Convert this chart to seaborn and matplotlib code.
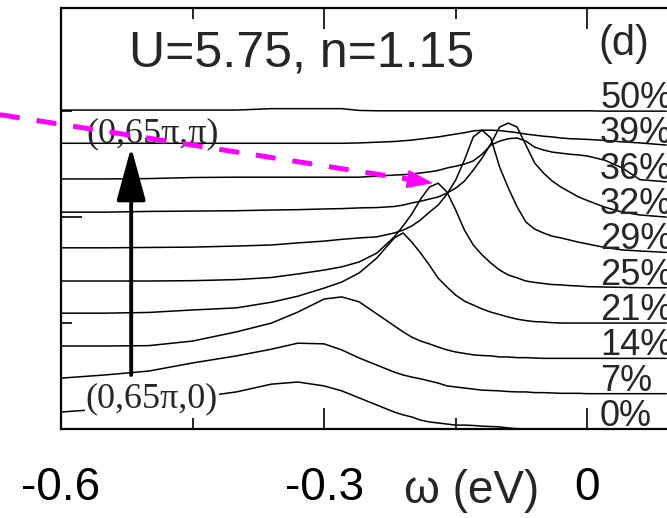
import numpy as np
import pandas as pd
import matplotlib
matplotlib.use("Agg")
import matplotlib.pyplot as plt
import seaborn as sns

# ---------------- data ----------------
omega = [-0.60, -0.55, -0.50, -0.45, -0.40, -0.36, -0.33, -0.30, -0.28, -0.26,
         -0.24, -0.22, -0.21, -0.20, -0.19, -0.18, -0.17, -0.16, -0.15, -0.14,
         -0.13, -0.12, -0.11, -0.10, -0.09, -0.08, -0.07, -0.06, -0.05, -0.04,
         -0.03, -0.02, -0.01, 0.00, 0.02, 0.04, 0.06, 0.09]

doping_labels = ["0%", "7%", "14%", "21%", "25%", "29%", "32%", "36%", "39%", "50%"]

a_00 = [0.48, 0.57, 0.71, 0.88, 1.05, 1.27, 1.33, 1.22, 1.08, 0.88,
        0.68, 0.48, 0.40, 0.34, 0.25, 0.20, 0.17, 0.14, 0.11, 0.11,
        0.10, 0.08, 0.07, 0.06, 0.03, 0.01, 0.00, 0.00, 0.00, 0.00,
        0.00, 0.00, 0.00, 0.00, 0.00, 0.00, 0.00, 0.00]
a_07 = [0.44, 0.53, 0.64, 0.87, 1.07, 1.26, 1.43, 1.41, 1.24, 1.01,
        0.81, 0.61, 0.53, 0.47, 0.42, 0.36, 0.30, 0.22, 0.19, 0.16,
        0.13, 0.10, 0.09, 0.08, 0.06, 0.05, 0.05, 0.03, 0.03, 0.02,
        0.01, 0.01, 0.01, 0.00, 0.00, 0.00, 0.00, 0.00]
a_14 = [0.35, 0.35, 0.36, 0.49, 0.75, 1.00, 1.31, 1.68, 1.74, 1.60,
        1.26, 0.92, 0.75, 0.60, 0.49, 0.41, 0.32, 0.24, 0.18, 0.14,
        0.10, 0.08, 0.07, 0.04, 0.04, 0.02, 0.02, 0.01, 0.00, 0.00,
        0.00, 0.00, 0.00, 0.00, 0.00, 0.00, 0.00, 0.00]
a_21 = [0.28, 0.28, 0.30, 0.37, 0.43, 0.59, 0.76, 0.99, 1.16, 1.42,
        1.84, 2.41, 2.55, 2.29, 1.98, 1.64, 1.27, 1.02, 0.79, 0.62,
        0.51, 0.40, 0.31, 0.24, 0.17, 0.11, 0.07, 0.04, 0.03, 0.01,
        0.00, 0.00, 0.00, 0.00, 0.00, 0.00, 0.00, 0.00]
a_25 = [0.19, 0.19, 0.19, 0.20, 0.23, 0.29, 0.39, 0.50, 0.59, 0.73,
        0.98, 1.44, 1.75, 2.09, 2.51, 2.85, 2.96, 2.71, 2.20, 1.63,
        1.21, 0.93, 0.70, 0.50, 0.36, 0.28, 0.19, 0.15, 0.12, 0.09,
        0.08, 0.06, 0.05, 0.03, 0.02, 0.01, 0.00, 0.00]
a_29 = [0.13, 0.13, 0.14, 0.15, 0.18, 0.21, 0.27, 0.32, 0.37, 0.41,
        0.44, 0.55, 0.63, 0.75, 0.92, 1.14, 1.34, 1.65, 2.05, 2.62,
        3.27, 3.46, 3.24, 2.42, 1.82, 1.29, 0.86, 0.66, 0.55, 0.46,
        0.41, 0.35, 0.29, 0.24, 0.14, 0.07, 0.04, 0.00]
a_32 = [0.14, 0.14, 0.16, 0.17, 0.18, 0.20, 0.21, 0.23, 0.24, 0.26,
        0.27, 0.30, 0.34, 0.40, 0.45, 0.51, 0.57, 0.68, 0.82, 1.02,
        1.33, 1.67, 2.07, 2.55, 2.66, 2.55, 2.04, 1.53, 1.25, 1.02,
        0.85, 0.71, 0.57, 0.47, 0.28, 0.14, 0.06, 0.00]
a_36 = [0.08, 0.08, 0.09, 0.12, 0.13, 0.13, 0.13, 0.13, 0.13, 0.13,
        0.16, 0.19, 0.20, 0.22, 0.25, 0.28, 0.32, 0.39, 0.44, 0.50,
        0.59, 0.78, 1.04, 1.15, 1.22, 1.24, 1.15, 0.98, 0.90, 0.84,
        0.81, 0.78, 0.76, 0.73, 0.61, 0.39, 0.06, 0.00]
a_39 = [0.09, 0.09, 0.09, 0.09, 0.09, 0.09, 0.09, 0.09, 0.09, 0.10,
        0.12, 0.14, 0.16, 0.18, 0.21, 0.24, 0.27, 0.31, 0.35, 0.39,
        0.44, 0.46, 0.46, 0.45, 0.42, 0.39, 0.35, 0.32, 0.29, 0.27,
        0.24, 0.22, 0.21, 0.20, 0.17, 0.13, 0.10, 0.04]
a_50 = [0.03, 0.03, 0.03, 0.03, 0.03, 0.07, 0.07, 0.07, 0.07, 0.02,
        0.01, 0.01, 0.01, 0.01, 0.01, 0.01, 0.01, 0.01, 0.01, 0.01,
        0.01, 0.01, 0.01, 0.01, 0.01, 0.01, 0.01, 0.01, 0.01, 0.01,
        0.01, 0.01, 0.01, 0.01, 0.00, 0.00, 0.00, 0.00]

spectra = [a_00, a_07, a_14, a_21, a_25, a_29, a_32, a_36, a_39, a_50]

title_text = "U=5.75, n=1.15"
panel_text = "(d)"
k_top_text = "(0,65π,π)"
k_bottom_text = "(0,65π,0)"
x_tick_values = [-0.6, -0.3, 0.0]
x_tick_labels = ["-0.6", "-0.3", "0"]
x_label = "ω (eV)"

# ---------------- style ----------------
sns.set_style("ticks")
plt.rcParams["font.family"] = ["Liberation Sans", "DejaVu Sans"]
plt.rcParams["axes.unicode_minus"] = False

step = 1.0  # vertical offset between successive spectra
rows = []
for i, (lab, vals) in enumerate(zip(doping_labels, spectra)):
    for w, v in zip(omega, vals):
        rows.append((w, v + i * step, lab))
df = pd.DataFrame(rows, columns=["omega", "intensity", "doping"])

fig = plt.figure(figsize=(6.67, 5.18), dpi=100)
ax = fig.add_axes([61 / 667, 89 / 518, 614 / 667, 421 / 518])

sns.lineplot(data=df, x="omega", y="intensity", hue="doping", hue_order=doping_labels,
             palette={lab: "black" for lab in doping_labels}, estimator=None,
             legend=False, linewidth=1.1, ax=ax)

ax.set_xlim(-0.6, 0.1)
ax.set_ylim(0, 11.92)
for s in ax.spines.values():
    s.set_linewidth(1.6)
    s.set_color("black")

ax.set_xticks(x_tick_values, labels=x_tick_labels)
ax.set_xticks([-0.45, -0.15], minor=True)
ax.set_yticks([6])
ax.set_yticks([3, 9], minor=True)
ax.tick_params(axis="x", which="both", direction="in", top=True, bottom=True,
               width=1.2, colors="black")
ax.tick_params(axis="x", which="major", length=15, labelsize=33, pad=27)
ax.tick_params(axis="x", which="minor", length=8)
ax.tick_params(axis="y", which="both", direction="in", left=True, right=False,
               labelleft=False, width=1.2, colors="black")
ax.tick_params(axis="y", which="major", length=15)
ax.tick_params(axis="y", which="minor", length=8)
ax.set_ylabel("")
ax.set_xlabel(x_label, fontsize=33)
ax.xaxis.set_label_coords(0.668, -0.176)
ax.xaxis.label.set_va("baseline")

# doping labels at right
for i, lab in enumerate(doping_labels):
    ax.text(0.0146, i * step + 0.09, lab, fontsize=26, ha="left", va="baseline",
            clip_on=False, zorder=3)

ax.text(0.392, 0.860, title_text, transform=ax.transAxes, fontsize=36,
        ha="center", va="baseline")
ax.text(0.8746, 0.8884, panel_text, transform=ax.transAxes, fontsize=30,
        ha="left", va="baseline")
ax.text(0.149, 0.6817, k_top_text, transform=ax.transAxes, fontsize=26,
        family=["Liberation Serif", "DejaVu Serif"], ha="center", va="baseline", zorder=4)
ax.text(0.148, 0.0523, k_bottom_text, transform=ax.transAxes, fontsize=26,
        family=["Liberation Serif", "DejaVu Serif"], ha="center", va="baseline", zorder=4,
        bbox=dict(facecolor="white", edgecolor="none", pad=0.5))

# black k-path arrow
arrow_tail = (-0.520, 1.53)
arrow_tip = (-0.520, 7.98)
ax.annotate("", xy=arrow_tip, xytext=arrow_tail,
            arrowprops=dict(arrowstyle="-|>,head_length=1.65,head_width=0.45",
                            mutation_scale=20, lw=2.8, color="black",
                            shrinkA=0, shrinkB=0), zorder=5)

# magenta dashed arrow
mag_start = (-0.6696, 8.90)
mag_base = (-0.2017, 7.065)
mag_tip = (-0.1758, 6.96)
ax.plot([mag_start[0], mag_base[0]], [mag_start[1], mag_base[1]], color="#ff00ff",
        lw=3.6, ls=(0, (4, 3.4)), clip_on=False, zorder=6, dash_capstyle="butt")
ax.annotate("", xy=mag_tip, xytext=mag_base, annotation_clip=False,
            arrowprops=dict(arrowstyle="-|>,head_length=0.85,head_width=0.3",
                            mutation_scale=20, lw=1, color="#ff00ff",
                            shrinkA=0, shrinkB=0), zorder=6)

fig.savefig("out.png", dpi=100)
